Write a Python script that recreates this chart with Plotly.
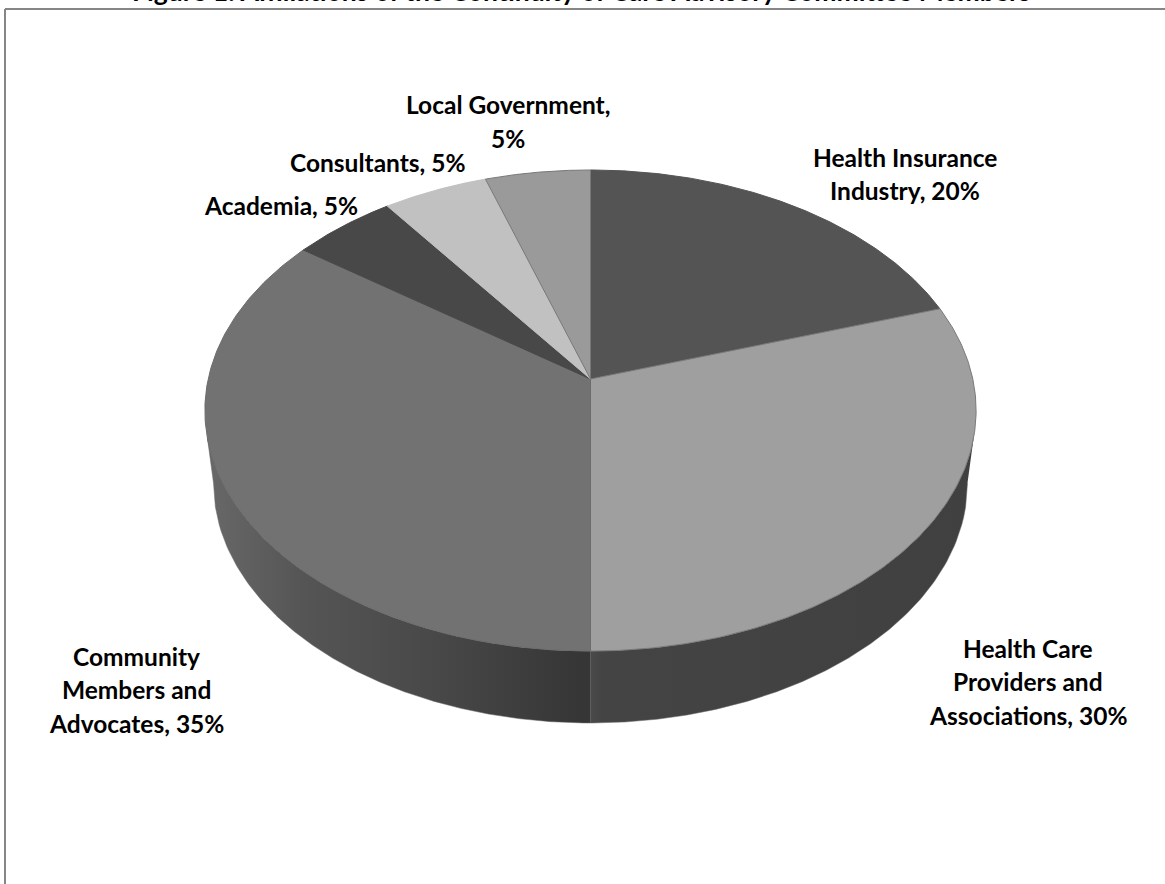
import numpy as np
import plotly.graph_objects as go

# Slices run clockwise from twelve o'clock
categories = [
    "Health Insurance Industry",
    "Health Care Providers and Associations",
    "Community Members and Advocates",
    "Academia",
    "Consultants",
    "Local Government",
]
shares = [20, 30, 35, 5, 5, 5]
title_text = "Figure 1: Affiliations of the Continuity of Care Advisory Committee Members"

slice_colors = ["#545454", "#9f9f9f", "#727272", "#484848", "#c1c1c1", "#9a9a9a"]
slice_lines = ["#545454", "#7a7a7a", "#6c6c6c", "#484848", "#c1c1c1", "#787878"]

# Label layout: wrapped lines and the centre of the first line, in page pixels
label_lines = [
    ["Health Insurance", "Industry, {}%"],
    ["Health Care", "Providers and", "Associations, {}%"],
    ["Community", "Members and", "Advocates, {}%"],
    ["Academia, {}%"],
    ["Consultants, {}%"],
    ["Local Government,", "{}%"],
]
label_anchor = [(905, 157), (1028, 648), (136, 656), (280.5, 205.5), (378, 162), (508, 104.5)]
LINE_STEP = 33.5
LABEL_FONT = dict(family="Lato", size=24.5, color="#000000", weight="bold")

# Tilted-disc projection of the pie's top face
CX, CY = 590.5, 379.0
RX, RY = 382.3, 236.4
TILT = 0.131
# Lower rim of the pie wall
BOTTOM_CY, BOTTOM_RX, BOTTOM_RY = 483.0, 377.0, 240.0
WALL_START_Y = 437.0


def project(theta):
    u, v = np.sin(theta), np.cos(theta)
    w = 1 + TILT * v
    return CX + RX * u / w, CY - RY * v / w


def lower_rim(x):
    s = np.sqrt(np.clip(1 - ((x - CX) / BOTTOM_RX) ** 2, 0, 1))
    return BOTTOM_CY + BOTTOM_RY * s


fig = go.Figure()


def add_wall(x_start, x_end, theta_a, theta_b, scale):
    theta = np.linspace(theta_a, theta_b, 200)
    tx, ty = project(theta)
    keep = ty >= WALL_START_Y
    tx, ty = tx[keep], ty[keep]
    bx = np.linspace(x_start, x_end, 200)
    by = lower_rim(bx)
    fig.add_trace(go.Scatter(
        x=np.r_[tx, bx], y=np.r_[ty, by],
        mode="lines", fill="toself", line=dict(width=0.5, color="#6a6a6a"),
        fillgradient=dict(type="horizontal", colorscale=scale),
        hoverinfo="skip", showlegend=False,
    ))


# Front wall, split where the two large slices meet
add_wall(CX, CX + BOTTOM_RX, np.pi * 0.5, np.pi, [
    [0, "#4a4a4a"], [0.03, "#444444"], [1, "#404040"]])
add_wall(CX - BOTTOM_RX, CX, np.pi, np.pi * 1.5, [
    [0, "#686868"], [0.25, "#555555"], [0.6, "#484848"], [0.97, "#363636"], [1, "#363636"]])

# Top face slices
edges = np.cumsum([0] + shares) / sum(shares) * 2 * np.pi
for i, name in enumerate(categories):
    theta = np.linspace(edges[i], edges[i + 1], 180)
    rx, ry = project(theta)
    fig.add_trace(go.Scatter(
        x=np.r_[CX, rx, CX], y=np.r_[CY, ry, CY],
        mode="lines", fill="toself", fillcolor=slice_colors[i],
        line=dict(width=1, color=slice_lines[i]),
        name=name, text=f"{name}, {shares[i]}%", hoverinfo="text", showlegend=False,
    ))

annotations = [dict(
    x=581, y=9, xref="x", yref="y", xanchor="center", yanchor="bottom",
    text=title_text, showarrow=False,
    font=dict(family="Lato", size=26.5, color="#000000", weight="bold"),
)]
for lines, value, (ax, ay) in zip(label_lines, shares, label_anchor):
    for k, line in enumerate(lines):
        annotations.append(dict(
            x=ax, y=ay + k * LINE_STEP, xref="x", yref="y",
            xanchor="center", yanchor="middle",
            text=line.format(value), showarrow=False, font=LABEL_FONT,
        ))

frame = dict(type="line", xref="x", yref="y", line=dict(color="#868686", width=2))
fig.update_layout(
    width=1165, height=884, autosize=False,
    margin=dict(l=0, r=0, t=0, b=0),
    paper_bgcolor="#ffffff", plot_bgcolor="#ffffff",
    xaxis=dict(range=[0, 1165], visible=False, fixedrange=True),
    yaxis=dict(range=[884, 0], visible=False, fixedrange=True),
    annotations=annotations,
    shapes=[
        dict(frame, x0=5, x1=5, y0=9, y1=884),
        dict(frame, x0=5, x1=1165, y0=9, y1=9),
    ],
    showlegend=False,
)
fig.write_html("out.html", config=dict(displayModeBar=False))
